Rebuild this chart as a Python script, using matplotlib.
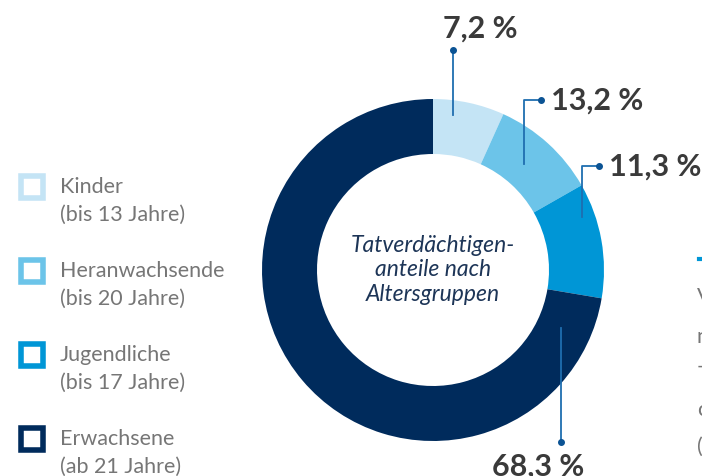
import matplotlib
matplotlib.use("Agg")
import matplotlib.pyplot as plt
import numpy as np

# ---- data ----
categories = ["Kinder", "Heranwachsende", "Jugendliche", "Erwachsene"]
subtitles = ["(bis 13 Jahre)", "(bis 20 Jahre)", "(bis 17 Jahre)", "(ab 21 Jahre)"]
value_labels = ["7,2 %", "13,2 %", "11,3 %", "68,3 %"]
values = [7.2, 13.2, 11.3, 68.3]
# wedge shares as actually drawn in the reference graphic (measured from wedge angles)
drawn_shares = [6.75, 10.0, 10.9, 72.35]
colors = ["#c4e4f5", "#6cc4e9", "#0096d6", "#002b5c"]
center_title = "Tatverdächtigen-\nanteile nach\nAltersgruppen"

W, H = 702, 476
fig = plt.figure(figsize=(W / 100, H / 100), dpi=100)
ax = fig.add_axes([0, 0, 1, 1])


def Y(y):
    return H - y


cx, cy, R, r_in = 433, 270, 171, 116
ax.pie(drawn_shares, colors=colors, startangle=90, counterclock=False,
       radius=R, center=(cx, Y(cy)),
       wedgeprops=dict(width=R - r_in, linewidth=0))
ax.set_xlim(0, W)
ax.set_ylim(0, H)
ax.set_aspect("equal")
ax.axis("off")

ax.text(cx, Y(270), center_title, ha="center", va="center", fontsize=16.5,
        style="italic", color="#1d3557", family="Lato", linespacing=1.2)

line_c = "#1f6eb0"
dot_c = "#0b5394"
pct_kw = dict(fontsize=22, fontweight="bold", color="#3a3a3a", family="Lato")

# Kinder
ax.plot([453, 453], [Y(115), Y(50)], color=line_c, lw=1.3)
ax.plot([453], [Y(50)], "o", color=dot_c, ms=4)
ax.text(480, Y(29), value_labels[0], ha="center", va="center", **pct_kw)
# Heranwachsende
ax.plot([524, 524, 541], [Y(164), Y(100), Y(100)], color=line_c, lw=1.3)
ax.plot([541], [Y(100)], "o", color=dot_c, ms=4)
ax.text(551, Y(101), value_labels[1], ha="left", va="center", **pct_kw)
# Jugendliche
ax.plot([582, 582, 599], [Y(217), Y(166), Y(166)], color=line_c, lw=1.3)
ax.plot([599], [Y(166)], "o", color=dot_c, ms=4)
ax.text(609, Y(167), value_labels[2], ha="left", va="center", **pct_kw)
# Erwachsene
ax.plot([561, 561], [Y(328), Y(442)], color=line_c, lw=1.3)
ax.plot([561], [Y(442)], "o", color=dot_c, ms=4)
ax.text(538, Y(467), value_labels[3], ha="center", va="center", **pct_kw)

# legend
for i, (cat, sub, col) in enumerate(zip(categories, subtitles, colors)):
    y0 = 187 + i * 84
    ax.add_patch(plt.Rectangle((21, Y(y0 + 11)), 22, 22, facecolor="white",
                               edgecolor=col, lw=4))
    ax.text(60, Y(y0), cat, ha="left", va="center", fontsize=15.5,
            color="#767676", family="Lato")
    ax.text(60, Y(y0 + 28), sub, ha="left", va="center", fontsize=15.5,
            color="#767676", family="Lato")

# cut-off text at right edge
ax.plot([699, 704], [Y(259), Y(259)], color="#0096d6", lw=3, clip_on=False)
for ch, yy in [("V", 297), ("n", 337), ("-", 367), ("c", 410), ("(", 447)]:
    ax.text(697, Y(yy), ch, ha="left", va="center", fontsize=15.5,
            color="#767676", family="Lato")

fig.savefig("out.png", dpi=100)
